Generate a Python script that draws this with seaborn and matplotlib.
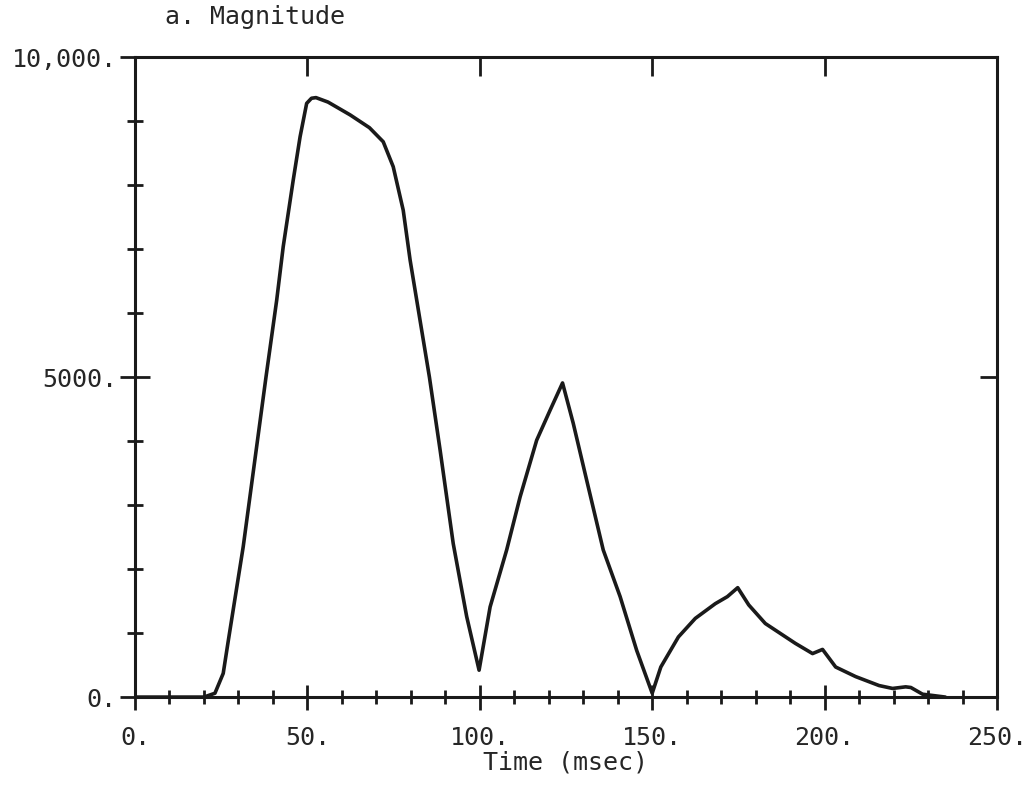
import numpy as np
import pandas as pd
import matplotlib
matplotlib.use("Agg")
import matplotlib.pyplot as plt
import seaborn as sns
from matplotlib.ticker import MultipleLocator, FixedLocator

# ---- data ----
time_ms = [0, 10, 20, 23.2, 25.6, 27.1, 31.4, 38.0, 41.1, 43.0, 45.9, 47.9, 49.8, 51.2, 52.5,
           56.0, 62.4, 68.0, 72.0, 74.9, 77.8, 79.8, 85.4, 88.5, 92.3, 96.2, 99.8,
           103.0, 107.8, 111.7, 116.5, 120.4, 124.0, 127.1, 131.0, 135.8, 140.7, 145.5, 150.0,
           152.5, 157.6, 162.5, 168.3, 171.8, 174.8, 178.0, 182.8, 191.5, 196.5, 199.4,
           203.2, 209.0, 215.8, 219.7, 223.5, 225.0, 228.4, 235.0]
magnitude = [0, 0, 0, 60, 370, 890, 2350, 5000, 6200, 7040, 8080, 8760, 9280, 9360, 9370,
             9300, 9100, 8900, 8680, 8290, 7610, 6830, 5000, 3860, 2400, 1260, 420,
             1410, 2300, 3130, 4015, 4485, 4910, 4280, 3390, 2300, 1570, 730, 60,
             470, 940, 1230, 1460, 1570, 1710, 1440, 1150, 840, 680, 745,
             470, 320, 180, 135, 160, 150, 45, 0]

x_ticks = [0, 50, 100, 150, 200, 250]
x_labels = ["0.", "50.", "100.", "150.", "200.", "250."]
y_ticks = [0, 5000, 10000]
y_labels = ["0.", "5000.", "10,000."]
top_ticks = [50, 100, 150, 200]
right_ticks = [5000]

df = pd.DataFrame({"Time (msec)": time_ms, "Magnitude": magnitude})

sns.set_style("white")
plt.rcParams["font.family"] = ["DejaVu Sans Mono", "DejaVu Sans"]

fig = plt.figure(figsize=(10.3, 7.85), dpi=100)
ax = fig.add_axes([0.131, 0.112, 0.837, 0.815])

sns.lineplot(data=df, x="Time (msec)", y="Magnitude", ax=ax, color="#1a1a1a",
             linewidth=2.6, sort=False, estimator=None)

ax.set_xlim(0, 250)
ax.set_ylim(0, 10000)

for s in ax.spines.values():
    s.set_linewidth(2.2)
    s.set_color("#1a1a1a")
    s.set_visible(True)

ax.xaxis.set_major_locator(FixedLocator(x_ticks))
ax.set_xticklabels(x_labels)
ax.xaxis.set_minor_locator(MultipleLocator(10))
ax.yaxis.set_major_locator(FixedLocator(y_ticks))
ax.set_yticklabels(y_labels)
ax.yaxis.set_minor_locator(MultipleLocator(1000))

ax.tick_params(bottom=True, left=True, top=False, right=False, which="both")
ax.tick_params(axis="x", which="major", direction="inout", length=18, width=2.0,
               labelsize=18, pad=12, color="#1a1a1a")
ax.tick_params(axis="x", which="minor", direction="inout", length=10, width=2.0,
               color="#1a1a1a")
ax.tick_params(axis="y", which="major", direction="inout", length=22, width=2.0,
               labelsize=18, pad=2, color="#1a1a1a")
ax.tick_params(axis="y", which="minor", direction="inout", length=12, width=2.0,
               color="#1a1a1a")

# top and right ticks (inward, no labels)
axt = ax.secondary_xaxis("top")
axt.set_xticks(top_ticks)
axt.set_xticklabels([])
axt.tick_params(top=True, direction="in", length=14, width=2.0, color="#1a1a1a")
axr = ax.secondary_yaxis("right")
axr.set_yticks(right_ticks)
axr.set_yticklabels([])
axr.tick_params(right=True, direction="in", length=12, width=2.0, color="#1a1a1a")

ax.set_xlabel("Time (msec)", fontsize=18, labelpad=0)
ax.set_ylabel("")
ax.text(0.035, 1.045, "a. Magnitude", transform=ax.transAxes, fontsize=18,
        ha="left", va="bottom")

fig.savefig("out.png", dpi=100, facecolor="white")
